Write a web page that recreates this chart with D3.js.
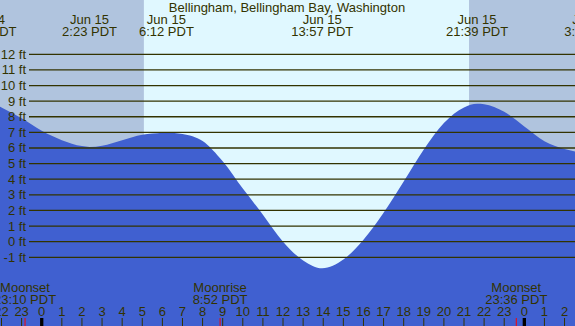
<!DOCTYPE html>
<html>
<head>
<meta charset="utf-8">
<script src="https://cdn.jsdelivr.net/npm/d3@7"></script>
<style>
  body { margin: 0; padding: 0; }
  svg { display: block; font-family: "Liberation Sans", Arial, sans-serif; }
</style>
</head>
<body>
<div id="canvas"></div>
<script>
///////// DATA //////////

// tide height (ft) by hour of Jun 15 (negative = Jun 14, >24 = Jun 16)
var hours   = [-2.08, -2, -1, 0, 1, 2, 2.38, 3, 4, 5, 6, 6.2, 7, 8, 9, 10, 11, 12, 13, 13.95, 15, 16, 17, 18, 19, 20, 21, 21.65, 22, 23, 24, 25, 26, 26.52];
var heights = [8.65, 8.6, 7.9, 7.1, 6.5, 6.12, 6.07, 6.15, 6.5, 6.85, 6.97, 7.0, 6.9, 6.45, 5.15, 3.4, 1.73, 0.0, -1.2, -1.7, -1.14, 0.13, 1.85, 3.85, 5.9, 7.6, 8.6, 8.83, 8.8, 8.32, 7.38, 6.43, 5.93, 5.77];

// high / low tide labels
var extremeHours = [-2.8, 2.38, 6.2, 13.95, 21.65, 27.35];
var extremeDates = ["Jun 14", "Jun 15", "Jun 15", "Jun 15", "Jun 15", "Jun 16"];
var extremeTimes = ["21:12 PDT", "2:23 PDT", "6:12 PDT", "13:57 PDT", "21:39 PDT", "3:30 PDT"];

// sunrise / sunset
var sunrise = 5.08, sunset = 21.25;

// moon events
var moonHours = [-0.83, 8.87, 23.6];
var moonNames = ["Moonset", "Moonrise", "Moonset"];
var moonTimes = ["23:10 PDT", "8:52 PDT", "23:36 PDT"];

// y axis ticks (ft)
var feet = [-1, 0, 1, 2, 3, 4, 5, 6, 7, 8, 9, 10, 11, 12];

// hour ticks
var hourTicks = d3.range(-2, 27);

var title = "Bellingham, Bellingham Bay, Washington";

///////// GLOBAL VARS //////////

var width = 575, height = 326;
var ink = "#333300";
var fs = 13;

var svg = d3.select("#canvas")
  .append("svg")
  .attr("width", width)
  .attr("height", height)
  .style("background-color", "#b0c4de");

var x = d3.scaleLinear()
  .domain([-2.075, 26.52])
  .range([0, width]);

var y = d3.scaleLinear()
  .domain([-1, 12])
  .range([257.3, 54.3]);

// daylight band
svg.append("rect")
  .attr("x", x(sunrise))
  .attr("y", 0)
  .attr("width", x(sunset) - x(sunrise))
  .attr("height", height)
  .attr("fill", "#e0f8ff");

// tide area
var tide = hours.map((h, i) => ({ h: h, v: heights[i] }));

svg.append("path")
  .datum(tide)
  .attr("fill", "#4060d0")
  .attr("d", d3.area()
    .x(d => x(d.h))
    .y0(height)
    .y1(d => y(d.v))
    .curve(d3.curveMonotoneX));

// grid lines
svg.selectAll(".grid")
  .data(feet)
  .join("line")
  .attr("class", "grid")
  .attr("x1", 29)
  .attr("x2", width)
  .attr("y1", d => y(d))
  .attr("y2", d => y(d))
  .attr("stroke", ink)
  .attr("stroke-width", 1.3);

// y labels
svg.selectAll(".ylab")
  .data(feet)
  .join("text")
  .attr("class", "ylab")
  .attr("x", 26)
  .attr("y", d => y(d) + 4.5)
  .attr("text-anchor", "end")
  .attr("font-size", fs)
  .attr("fill", ink)
  .text(d => d + " ft");

// title
svg.append("text")
  .attr("x", 287)
  .attr("y", 12)
  .attr("text-anchor", "middle")
  .attr("font-size", fs)
  .attr("fill", ink)
  .text(title);

// tide extreme labels
extremeHours.forEach((h, i) => {
  svg.append("text")
    .attr("x", x(h))
    .attr("y", 24)
    .attr("text-anchor", "middle")
    .attr("font-size", fs)
    .attr("fill", ink)
    .text(extremeDates[i]);
  svg.append("text")
    .attr("x", x(h))
    .attr("y", 36)
    .attr("text-anchor", "middle")
    .attr("font-size", fs)
    .attr("fill", ink)
    .text(extremeTimes[i]);
});

// moon labels
moonHours.forEach((h, i) => {
  svg.append("text")
    .attr("x", x(h))
    .attr("y", 292)
    .attr("text-anchor", "middle")
    .attr("font-size", fs)
    .attr("fill", ink)
    .text(moonNames[i]);
  svg.append("text")
    .attr("x", x(h))
    .attr("y", 304)
    .attr("text-anchor", "middle")
    .attr("font-size", fs)
    .attr("fill", ink)
    .text(moonTimes[i]);
});

// hour labels and ticks
svg.selectAll(".hlab")
  .data(hourTicks)
  .join("text")
  .attr("class", "hlab")
  .attr("x", d => x(d))
  .attr("y", 316)
  .attr("text-anchor", "middle")
  .attr("font-size", fs)
  .attr("fill", ink)
  .text(d => (d + 24) % 24);

svg.selectAll(".htick")
  .data(hourTicks)
  .join("line")
  .attr("class", "htick")
  .attr("x1", d => x(d))
  .attr("x2", d => x(d))
  .attr("y1", 318)
  .attr("y2", height)
  .attr("stroke", d => (d % 24 == 0) ? "#000" : ink)
  .attr("stroke-width", d => (d % 24 == 0) ? 3.3 : 1);

// moon event ticks
svg.selectAll(".mtick")
  .data(moonHours)
  .join("line")
  .attr("class", "mtick")
  .attr("x1", d => x(d))
  .attr("x2", d => x(d))
  .attr("y1", 318)
  .attr("y2", height)
  .attr("stroke", "#ff0000")
  .attr("stroke-width", 1);
</script>
</body>
</html>
